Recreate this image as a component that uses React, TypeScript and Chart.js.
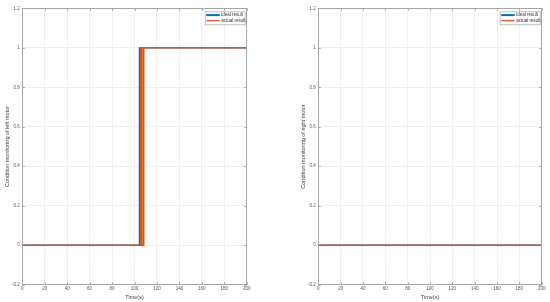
import React, { useEffect, useRef } from "react";
import { Chart, registerables } from "chart.js";

Chart.register(...registerables);

// ---- data ----
const timeMin = 0;
const timeMax = 200;
const yMin = -0.2;
const yMax = 1.2;

const leftIdealTime = [0, 104.3, 104.3, 200];
const leftIdealState = [0, 0, 1, 1];
const leftActualTime = [0, 105.4, 105.4, 106.6, 106.6, 108.2, 108.2, 200];
const leftActualState = [0, 0, 1, 1, 0, 0, 1, 1];

const rightIdealTime = [0, 200];
const rightIdealState = [0, 0];
const rightActualTime = [0, 200];
const rightActualState = [0, 0];

const seriesNames = ["ideal result", "actual result"];
const seriesColors = ["#0072BD", "#D95319"];
const xTitle = "Time(s)";
const leftYTitle = "Condition monitoring of left motor";
const rightYTitle = "Condition monitoring of right motor";

const FONT = "'Liberation Sans', Arial, sans-serif";

const toPoints = (xs: number[], ys: number[]) => xs.map((x, i) => ({ x, y: ys[i] }));

const boxPlugin = {
  id: "matlabBox",
  afterDraw(chart: any) {
    const { ctx, chartArea } = chart;
    const { left, right, top, bottom } = chartArea;
    ctx.save();
    // inward ticks
    ctx.strokeStyle = "#8c8c8c";
    ctx.lineWidth = 0.7;
    const xs = chart.scales.x;
    const ys = chart.scales.y;
    ctx.beginPath();
    xs.ticks.forEach((t: any) => {
      const px = Math.round(xs.getPixelForValue(t.value)) + 0.5;
      ctx.moveTo(px, bottom);
      ctx.lineTo(px, bottom - 2.5);
      ctx.moveTo(px, top);
      ctx.lineTo(px, top + 2.5);
    });
    ys.ticks.forEach((t: any) => {
      const py = Math.round(ys.getPixelForValue(t.value)) + 0.5;
      ctx.moveTo(left, py);
      ctx.lineTo(left + 2.5, py);
      ctx.moveTo(right, py);
      ctx.lineTo(right - 2.5, py);
    });
    ctx.stroke();
    // box
    ctx.strokeStyle = "#a6a6a6";
    ctx.lineWidth = 1;
    ctx.strokeRect(Math.round(left) + 0.5, Math.round(top) + 0.5, Math.round(right - left), Math.round(bottom - top));

    // legend
    const lw = 40;
    const lh = 13;
    const lx = right - 2 - lw;
    const ly = top + 3;
    ctx.fillStyle = "#ffffff";
    ctx.fillRect(lx, ly, lw, lh);
    ctx.strokeStyle = "#b0b0b0";
    ctx.lineWidth = 0.8;
    ctx.strokeRect(lx + 0.5, ly + 0.5, lw, lh);
    ctx.font = `4.5px ${FONT}`;
    ctx.textBaseline = "middle";
    ctx.textAlign = "left";
    seriesNames.forEach((name, i) => {
      const cy = ly + 3.8 + i * 5.6;
      ctx.strokeStyle = seriesColors[i];
      ctx.lineWidth = i === 0 ? 2 : 1.2;
      ctx.beginPath();
      ctx.moveTo(lx + 1.5, cy);
      ctx.lineTo(lx + 15, cy);
      ctx.stroke();
      ctx.fillStyle = "#333333";
      ctx.fillText(name, lx + 16.5, cy);
    });
    ctx.restore();
  },
};

function makeConfig(
  ideal: { x: number; y: number }[],
  actual: { x: number; y: number }[],
  yTitle: string,
  padLeft: number,
  padRight: number
): any {
  return {
    type: "line",
    data: {
      datasets: [
        {
          label: seriesNames[1],
          data: actual,
          borderColor: seriesColors[1],
          borderWidth: 1.6,
          pointRadius: 0,
          fill: false,
          tension: 0,
          order: 0,
        },
        {
          label: seriesNames[0],
          data: ideal,
          borderColor: seriesColors[0],
          borderWidth: 1.3,
          pointRadius: 0,
          fill: false,
          tension: 0,
          order: 1,
        },
      ],
    },
    options: {
      responsive: false,
      animation: false,
      devicePixelRatio: 1,
      layout: { padding: { left: padLeft, right: padRight, top: 8.3, bottom: 0 } },
      plugins: { legend: { display: false }, tooltip: { enabled: false } },
      scales: {
        x: {
          type: "linear",
          min: timeMin,
          max: timeMax,
          ticks: {
            stepSize: 20,
            color: "#555555",
            font: { family: FONT, size: 4.5 },
            padding: 1,
            maxRotation: 0,
            autoSkip: false,
          },
          grid: { color: "#ebebeb", lineWidth: 0.8, drawTicks: false },
          border: { display: false },
          title: {
            display: true,
            text: xTitle,
            color: "#444444",
            font: { family: FONT, size: 5.5 },
            padding: { top: 0, bottom: 1 },
          },
          afterFit(scale: any) {
            scale.height = 17.3;
          },
        },
        y: {
          type: "linear",
          min: yMin,
          max: yMax,
          ticks: {
            stepSize: 0.2,
            color: "#555555",
            font: { family: FONT, size: 4.5 },
            padding: 2.5,
            autoSkip: false,
            callback: (v: number) => String(Number(Number(v).toFixed(1))),
          },
          grid: { color: "#ebebeb", lineWidth: 0.8, drawTicks: false },
          border: { display: false },
          title: {
            display: true,
            text: yTitle,
            color: "#444444",
            font: { family: FONT, size: 5.5 },
            padding: { top: 3.5, bottom: 0 },
          },
          afterFit(scale: any) {
            scale.width = 22;
          },
        },
      },
    },
    plugins: [boxPlugin],
  };
}

function Panel(props: {
  ideal: { x: number; y: number }[];
  actual: { x: number; y: number }[];
  yTitle: string;
  padLeft: number;
  padRight: number;
}) {
  const ref = useRef<HTMLCanvasElement>(null);
  useEffect(() => {
    if (!ref.current) return;
    const chart = new Chart(
      ref.current,
      makeConfig(props.ideal, props.actual, props.yTitle, props.padLeft, props.padRight)
    );
    return () => chart.destroy();
  }, []);
  return <canvas ref={ref} width={275} height={302} style={{ display: "block", width: 275, height: 302 }} />;
}

export default function App() {
  return (
    <div
      style={{
        position: "absolute",
        left: 0,
        top: 0,
        width: 550,
        height: 302,
        display: "flex",
        background: "#ffffff",
      }}
    >
      <Panel
        ideal={toPoints(leftIdealTime, leftIdealState)}
        actual={toPoints(leftActualTime, leftActualState)}
        yTitle={leftYTitle}
        padLeft={0.3}
        padRight={28.3}
      />
      <Panel
        ideal={toPoints(rightIdealTime, rightIdealState)}
        actual={toPoints(rightActualTime, rightActualState)}
        yTitle={rightYTitle}
        padLeft={21.3}
        padRight={8.3}
      />
    </div>
  );
}
